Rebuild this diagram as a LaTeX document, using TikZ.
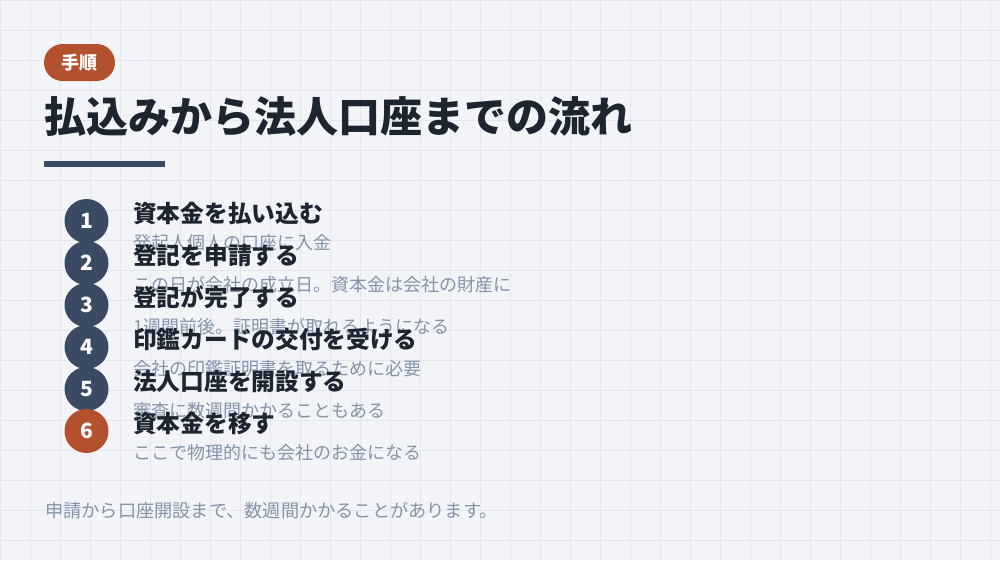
\documentclass[tikz,border=0pt]{standalone}
\usepackage{fontspec}
\setmainfont{Noto Sans CJK JP}
\setsansfont{Noto Sans CJK JP}
\definecolor{bg}{HTML}{F2F4F7}
\definecolor{gridc}{HTML}{E3E6EA}
\definecolor{navy}{HTML}{3A4A62}
\definecolor{rust}{HTML}{B3512E}
\definecolor{ink}{HTML}{1C2530}
\definecolor{muted}{HTML}{8594AB}
\tikzset{
  badge/.style={fill=rust, text=white, rounded corners=18.5pt, minimum width=71pt, minimum height=37pt, inner sep=0pt, font=\fontsize{18}{18}\selectfont\bfseries},
  num/.style={circle, fill=navy, text=white, minimum size=44pt, inner sep=0pt, font=\fontsize{21}{21}\selectfont\bfseries},
  numhot/.style={num, fill=rust},
  steptitle/.style={anchor=west, inner sep=0pt, text=ink, font=\fontsize{23.7}{23.7}\selectfont\bfseries},
  stepdesc/.style={anchor=west, inner sep=0pt, text=muted, font=\fontsize{18}{18}\selectfont},
}
\begin{document}
\begin{tikzpicture}[x=1pt,y=-1pt]
\useasboundingbox (0,0) rectangle (1000,560);
\fill[bg] (0,0) rectangle (1000,560);
\foreach \gx in {0,30,...,990} \draw[gridc, line width=1pt] (\gx,0) -- (\gx,560);
\foreach \gy in {0,30,...,540} \draw[gridc, line width=1pt] (0,\gy) -- (1000,\gy);
\node[badge] (badge) at (79.5,62.5) {手順};
\node[anchor=west, inner sep=0pt, text=ink, font=\fontsize{42}{42}\selectfont\bfseries] (title) at (44,117) {払込みから法人口座までの流れ};
\fill[navy] (44,161) rectangle (165,167);
\foreach \i/\t/\d in {
  1/資本金を払い込む/発起人個人の口座に入金,
  2/登記を申請する/この日が会社の成立日。資本金は会社の財産に,
  3/登記が完了する/1週間前後。証明書が取れるようになる,
  4/印鑑カードの交付を受ける/会社の印鑑証明書を取るために必要,
  5/法人口座を開設する/審査に数週間かかることもある}{
  \pgfmathsetmacro{\cy}{221+42*(\i-1)}
  \node[num] (n\i) at (86.5,\cy) {\i};
  \node[stepdesc] (d\i) at (133,\cy+21.5) {\d};
  \node[steptitle] (t\i) at (133,\cy-7.5) {\t};
}
\node[numhot] (n6) at (86.5,431) {6};
\node[stepdesc] (d6) at (133,452.5) {ここで物理的にも会社のお金になる};
\node[steptitle] (t6) at (133,423.5) {資本金を移す};
\node[anchor=west, inner sep=0pt, text=muted, font=\fontsize{18.2}{18.2}\selectfont] (foot) at (45,511) {申請から口座開設まで、数週間かかることがあります。};
\end{tikzpicture}
\end{document}
